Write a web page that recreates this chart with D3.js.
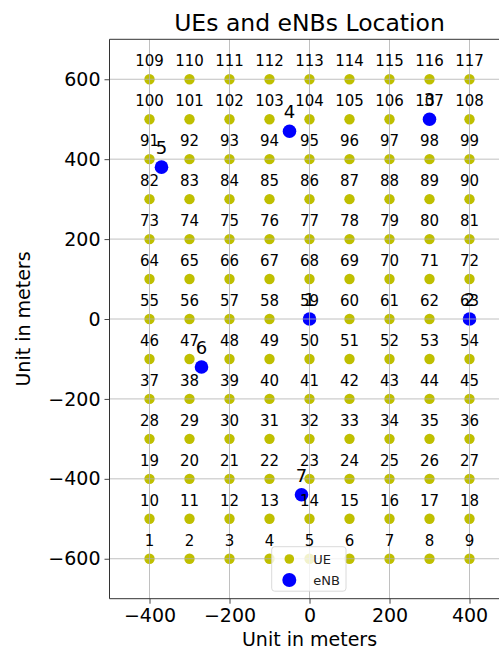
<!DOCTYPE html>
<html>
<head>
<meta charset="utf-8">
<script src="https://cdn.jsdelivr.net/npm/d3@7"></script>
<style>
  html, body { margin: 0; padding: 0; background: #fff; }
  svg { display: block; font-family: "DejaVu Sans", sans-serif; }
</style>
</head>
<body>
<svg id="chart" width="499" height="649"></svg>
<script>
// ---- data ----
const title = "UEs and eNBs Location";
const xLabel = "Unit in meters";
const yLabel = "Unit in meters";
const ueColumnsX = [-400, -300, -200, -100, 0, 100, 200, 300, 400];
const ueRowsY = [-600, -500, -400, -300, -200, -100, 0, 100, 200, 300, 400, 500, 600];
const enbX = [0, 400, 300, -50, -370, -270, -20];
const enbY = [0, 0, 500, 470, 380, -120, -440];
const enbLabels = ["1", "2", "3", "4", "5", "6", "7"];
const xTicks = [-400, -200, 0, 200, 400];
const yTicks = [-600, -400, -200, 0, 200, 400, 600];
const xDomain = [-500, 500];
const yDomain = [-700, 700];

// UE points: every column at every row, numbered row by row from the bottom
const ues = [];
ueRowsY.forEach((yy, r) => ueColumnsX.forEach((xx, c) => ues.push({x: xx, y: yy, label: String(r * ueColumnsX.length + c + 1)})));
const enbs = enbX.map((xx, i) => ({x: xx, y: enbY[i], label: enbLabels[i]}));

// ---- layout ----
const mLeft = 109.5, mTop = 39.3, plotW = 400, plotH = 559.4;
const svg = d3.select("#chart");
const x = d3.scaleLinear().domain(xDomain).range([mLeft, mLeft + plotW]);
const y = d3.scaleLinear().domain(yDomain).range([mTop + plotH, mTop]);

const ueColor = "#bfbf00", enbColor = "#0000ff";

// points
svg.append("g").selectAll("circle").data(ues).join("circle")
  .attr("cx", d => x(d.x)).attr("cy", d => y(d.y)).attr("r", 5.2).attr("fill", ueColor);
svg.append("g").selectAll("circle").data(enbs).join("circle")
  .attr("cx", d => x(d.x)).attr("cy", d => y(d.y)).attr("r", 6.8).attr("fill", enbColor);

// grid (drawn above points, as in reference)
const grid = svg.append("g").attr("stroke", "#b0b0b0").attr("stroke-width", 0.8);
grid.selectAll(".gx").data(xTicks).join("line").attr("class", "gx")
  .attr("x1", d => x(d)).attr("x2", d => x(d)).attr("y1", mTop).attr("y2", mTop + plotH);
grid.selectAll(".gy").data(yTicks).join("line").attr("class", "gy")
  .attr("y1", d => y(d)).attr("y2", d => y(d)).attr("x1", mLeft).attr("x2", mLeft + plotW);

// labels
svg.append("g").selectAll("text").data(ues).join("text")
  .attr("x", d => x(d.x)).attr("y", d => y(d.y) - 13.2)
  .attr("text-anchor", "middle").attr("font-size", 15).attr("fill", "#000")
  .text(d => d.label);
svg.append("g").selectAll("text").data(enbs).join("text")
  .attr("x", d => x(d.x)).attr("y", d => y(d.y) - 13)
  .attr("text-anchor", "middle").attr("font-size", 18).attr("fill", "#000")
  .text(d => d.label);

// axes
const fmt = d => d < 0 ? "\u2212" + Math.abs(d) : String(d);
const xAxis = svg.append("g").attr("transform", `translate(0,${mTop + plotH})`)
  .call(d3.axisBottom(x).tickValues(xTicks).tickFormat(fmt).tickSize(5).tickPadding(4));
const yAxis = svg.append("g").attr("transform", `translate(${mLeft},0)`)
  .call(d3.axisLeft(y).tickValues(yTicks).tickFormat(fmt).tickSize(5).tickPadding(4));
[xAxis, yAxis].forEach(a => {
  a.select(".domain").remove();
  a.selectAll("line").attr("stroke", "#333").attr("stroke-width", 0.9);
  a.selectAll("text").attr("font-size", 19).attr("fill", "#000").attr("font-family", "DejaVu Sans");
});
xAxis.selectAll("text").attr("dy", "0.71em").attr("y", 10);

// frame
const frame = svg.append("g").attr("stroke", "#333").attr("stroke-width", 1).attr("fill", "none");
frame.append("line").attr("x1", mLeft).attr("x2", mLeft).attr("y1", mTop).attr("y2", mTop + plotH);
frame.append("line").attr("x1", mLeft).attr("x2", mLeft + plotW).attr("y1", mTop + plotH).attr("y2", mTop + plotH);
frame.append("line").attr("x1", mLeft).attr("x2", mLeft + plotW).attr("y1", mTop).attr("y2", mTop);
frame.append("line").attr("x1", mLeft + plotW).attr("x2", mLeft + plotW).attr("y1", mTop).attr("y2", mTop + plotH);

// legend
const lg = svg.append("g").attr("transform", "translate(271.7,546.7)");
lg.append("rect").attr("width", 74.3).attr("height", 44.5).attr("rx", 3)
  .attr("fill", "#fff").attr("fill-opacity", 0.8).attr("stroke", "#d0d0d0").attr("stroke-width", 0.8);
const items = [{name: "UE", color: ueColor, r: 4.8}, {name: "eNB", color: enbColor, r: 7}];
items.forEach((it, i) => {
  const cy = 12.3 + i * 21;
  lg.append("circle").attr("cx", 17.6).attr("cy", cy).attr("r", it.r).attr("fill", it.color);
  lg.append("text").attr("x", 41.6).attr("y", cy).attr("dy", "0.35em")
    .attr("font-size", 13).attr("fill", "#222").text(it.name);
});

// titles
svg.append("text").attr("x", x(0)).attr("y", 31).attr("text-anchor", "middle")
  .attr("font-size", 23.5).attr("fill", "#000").text(title);
svg.append("text").attr("x", x(0)).attr("y", 645.5).attr("text-anchor", "middle")
  .attr("font-size", 19).attr("fill", "#000").text(xLabel);
svg.append("text").attr("transform", `translate(30,${y(0)}) rotate(-90)`).attr("text-anchor", "middle")
  .attr("font-size", 19).attr("fill", "#000").text(yLabel);
</script>
</body>
</html>
